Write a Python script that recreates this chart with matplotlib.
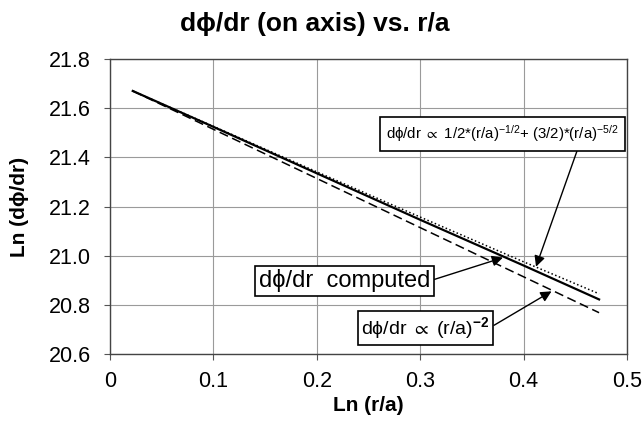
import matplotlib
matplotlib.use('Agg')
import matplotlib.pyplot as plt

plt.rcParams['font.family'] = ['Liberation Sans', 'DejaVu Sans']
plt.rcParams['mathtext.fontset'] = 'custom'
plt.rcParams['mathtext.rm'] = 'Liberation Sans'
plt.rcParams['mathtext.it'] = 'Liberation Sans'
plt.rcParams['mathtext.bf'] = 'Liberation Sans:bold'
plt.rcParams['mathtext.fallback'] = 'stixsans'

# Ln(r/a) sample positions
ln_r = [0.022, 0.1, 0.2, 0.3, 0.4, 0.473]
# computed curve (solid)
computed = [21.67, 21.524, 21.335, 21.146, 20.96, 20.822]
# (r/a)^-2 fit (dashed)
fit_r2 = [21.67, 21.514, 21.314, 21.114, 20.914, 20.768]
# 1/2*(r/a)^-1/2 + 3/2*(r/a)^-5/2 fit (dotted)
fit_mix = [21.67, 21.526, 21.341, 21.157, 20.975, 20.845]

x_ticks = [0, 0.1, 0.2, 0.3, 0.4, 0.5]
y_ticks = [20.6, 20.8, 21.0, 21.2, 21.4, 21.6, 21.8]

fig = plt.figure(figsize=(6.44, 4.29), dpi=100)
ax = fig.add_axes([110 / 644, 1 - 354 / 429, 517 / 644, 295 / 429])

ax.plot(ln_r, fit_mix, color='black', lw=1.1, linestyle=(0, (1, 1.6)))
ax.plot(ln_r, fit_r2, color='black', lw=1.1, linestyle=(0, (6, 3)))
ax.plot(ln_r, computed, color='black', lw=1.6)

ax.set_xlim(0, 0.5)
ax.set_ylim(20.6, 21.8)
ax.set_xticks(x_ticks)
ax.set_xticklabels(['0', '0.1', '0.2', '0.3', '0.4', '0.5'])
ax.set_yticks(y_ticks)
ax.set_yticklabels(['%.1f' % v for v in y_ticks])
ax.tick_params(labelsize=15.5, direction='out', length=4, width=0.8, color='#555555')
ax.tick_params(axis='y', pad=10)
ax.tick_params(axis='x', pad=8)
ax.grid(True, color='#9a9a9a', lw=0.8)
ax.set_axisbelow(True)
for sp in ax.spines.values():
    sp.set_color('#444444')
    sp.set_linewidth(1.0)

ax.set_xlabel('Ln (r/a)', fontsize=15, fontweight='bold', labelpad=3)
ax.set_ylabel('Ln (dϕ/dr)', fontsize=15, fontweight='bold', labelpad=14)
fig.text(0.488, 0.945, 'dϕ/dr (on axis) vs. r/a', fontsize=19,
         fontweight='bold', ha='center', va='center')

box = dict(boxstyle='square,pad=0.25', fc='white', ec='black', lw=1.2)
arrow = dict(arrowstyle='-|>', color='black', lw=1.0, mutation_scale=16,
             shrinkA=0, shrinkB=0)

ax.annotate('dϕ/dr $\\propto$ 1/2*(r/a)$^{-1/2}$+ (3/2)*(r/a)$^{-5/2}$',
            xy=(0.412, 20.955), xytext=(0.3796, 21.495),
            fontsize=10.8, ha='center', va='center',
            bbox=dict(box, boxstyle='square,pad=0.42'),
            arrowprops=dict(arrow, relpos=(0.83, 0.0)))
ax.annotate('dϕ/dr  computed',
            xy=(0.38, 20.992), xytext=(0.2268, 20.898),
            fontsize=17, ha='center', va='center',
            bbox=dict(box, boxstyle='square,pad=0.15'),
            arrowprops=dict(arrow, relpos=(1.0, 0.5)))
ax.annotate('dϕ/dr $\\propto$ (r/a)$^{\\mathbf{-2}}$',
            xy=(0.427, 20.855), xytext=(0.3051, 20.706),
            fontsize=14, ha='center', va='center',
            bbox=dict(box, boxstyle='square,pad=0.2'),
            arrowprops=dict(arrow, relpos=(1.0, 0.5)))

fig.savefig('out.png', dpi=100)
